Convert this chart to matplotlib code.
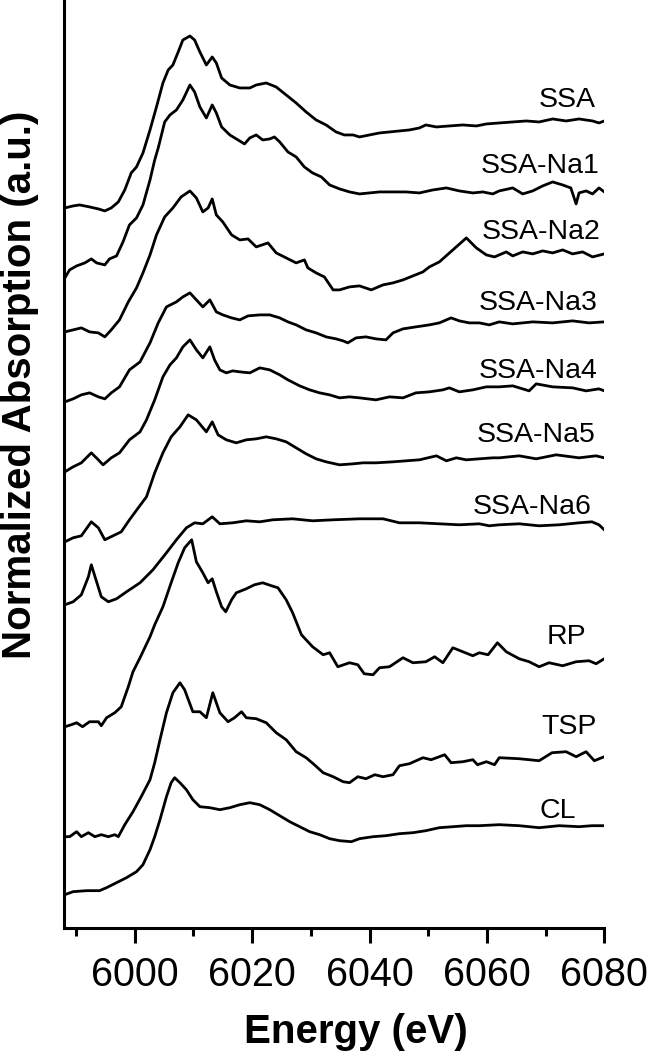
"""
Stacked Fe K-edge XANES spectra of the SSA / reference samples
"""

import numpy as np
import matplotlib
matplotlib.use("Agg")
import matplotlib.pyplot as plt
from matplotlib.ticker import MultipleLocator

plt.rcParams["font.family"] = ["Liberation Sans", "DejaVu Sans"]

# sample names, top to bottom
names = ["SSA", "SSA-Na1", "SSA-Na2", "SSA-Na3", "SSA-Na4",
         "SSA-Na5", "SSA-Na6", "RP", "TSP", "CL"]

# spectra as drawn (already offset), energy in eV
e_ssa = [5988.1, 5989.5, 5990.6, 5992.3, 5993.8, 5994.9, 5996.0, 5997.2, 5998.3, 5999.4,
         6000.3, 6001.4, 6002.6, 6003.7, 6004.8, 6005.7, 6006.5, 6007.4, 6008.2, 6009.4,
         6010.2, 6011.1, 6012.2, 6013.2, 6013.9, 6014.8, 6016.2, 6017.9, 6019.6, 6020.7,
         6022.4, 6024.1, 6025.8, 6027.5, 6029.2, 6030.9, 6032.6, 6034.3, 6035.7, 6037.2,
         6038.3, 6040.0, 6041.7, 6043.4, 6045.1, 6046.8, 6048.5, 6049.6, 6051.4, 6053.6,
         6055.9, 6058.2, 6059.9, 6062.1, 6064.4, 6066.7, 6068.9, 6071.2, 6073.5, 6075.7,
         6078.0, 6079.1, 6080.0]
a_ssa = [7.20, 7.22, 7.23, 7.21, 7.19, 7.17, 7.20, 7.26, 7.38, 7.55,
         7.61, 7.75, 7.98, 8.21, 8.45, 8.58, 8.63, 8.76, 8.88, 8.92,
         8.88, 8.76, 8.63, 8.71, 8.65, 8.50, 8.43, 8.40, 8.40, 8.43,
         8.45, 8.41, 8.33, 8.25, 8.16, 8.08, 8.03, 7.96, 7.93, 7.93,
         7.91, 7.93, 7.95, 7.96, 7.97, 7.98, 8.00, 8.03, 8.01, 8.02,
         8.03, 8.02, 8.04, 8.05, 8.06, 8.07, 8.06, 8.09, 8.07, 8.09,
         8.07, 8.05, 8.07]

e_na1 = [5988.1, 5988.9, 5990.1, 5991.5, 5992.6, 5993.5, 5994.9, 5995.7, 5996.9, 5998.0,
         5999.1, 6000.3, 6001.4, 6002.6, 6003.4, 6004.0, 6005.1, 6006.0, 6007.1, 6008.2,
         6009.4, 6010.2, 6011.1, 6012.2, 6013.2, 6013.9, 6014.8, 6016.2, 6017.6, 6018.7,
         6019.6, 6020.7, 6021.8, 6023.0, 6023.8, 6024.7, 6026.1, 6027.5, 6028.9, 6030.3,
         6031.8, 6033.2, 6034.9, 6036.6, 6038.3, 6040.0, 6041.7, 6044.0, 6046.2, 6048.5,
         6050.8, 6053.1, 6055.3, 6057.6, 6059.3, 6061.0, 6062.1, 6064.4, 6066.1, 6067.8,
         6069.5, 6071.2, 6072.9, 6074.3, 6075.2, 6075.7, 6076.9, 6078.0, 6079.1, 6080.0]
a_na1 = [6.50, 6.58, 6.62, 6.65, 6.69, 6.65, 6.63, 6.69, 6.72, 6.86,
         7.03, 7.10, 7.23, 7.48, 7.68, 7.80, 8.06, 8.13, 8.18, 8.28,
         8.43, 8.36, 8.21, 8.10, 8.23, 8.15, 8.01, 7.93, 7.88, 7.84,
         7.90, 7.93, 7.88, 7.89, 7.91, 7.86, 7.76, 7.71, 7.61, 7.55,
         7.51, 7.43, 7.39, 7.36, 7.34, 7.35, 7.36, 7.36, 7.36, 7.35,
         7.38, 7.40, 7.37, 7.35, 7.36, 7.34, 7.37, 7.40, 7.34, 7.37,
         7.42, 7.46, 7.43, 7.40, 7.24, 7.35, 7.37, 7.34, 7.40, 7.36]

e_na2 = [5988.1, 5989.5, 5990.9, 5992.3, 5993.8, 5994.9, 5996.0, 5997.4, 5998.9, 6000.3,
         6001.4, 6002.6, 6003.7, 6005.1, 6006.5, 6007.9, 6009.4, 6010.5, 6011.6, 6012.5,
         6013.2, 6013.9, 6015.0, 6016.5, 6017.9, 6019.3, 6020.7, 6022.7, 6024.1, 6025.8,
         6027.5, 6028.9, 6029.5, 6030.9, 6032.3, 6033.8, 6034.9, 6036.6, 6038.3, 6040.3,
         6042.3, 6044.0, 6045.7, 6047.4, 6049.1, 6050.2, 6051.9, 6054.2, 6056.5, 6058.2,
         6059.9, 6061.3, 6062.1, 6063.3, 6064.4, 6066.1, 6067.8, 6069.5, 6071.2, 6072.9,
         6074.6, 6076.3, 6078.0, 6080.0]
a_na2 = [5.96, 5.98, 6.00, 5.96, 5.95, 5.91, 5.98, 6.08, 6.26, 6.40,
         6.55, 6.73, 6.93, 7.11, 7.20, 7.31, 7.37, 7.30, 7.16, 7.20,
         7.29, 7.13, 7.06, 6.93, 6.88, 6.89, 6.81, 6.85, 6.75, 6.70,
         6.65, 6.68, 6.60, 6.55, 6.51, 6.38, 6.38, 6.41, 6.42, 6.38,
         6.43, 6.45, 6.48, 6.52, 6.56, 6.61, 6.66, 6.78, 6.90, 6.80,
         6.73, 6.71, 6.73, 6.76, 6.72, 6.76, 6.74, 6.77, 6.75, 6.78,
         6.74, 6.76, 6.71, 6.74]

e_na3 = [5988.1, 5989.5, 5990.9, 5992.3, 5993.8, 5994.9, 5996.0, 5997.4, 5999.1, 6000.9,
         6002.6, 6004.0, 6005.4, 6007.1, 6008.2, 6009.4, 6010.5, 6011.6, 6012.8, 6013.9,
         6015.0, 6016.5, 6017.9, 6019.3, 6021.3, 6023.0, 6024.7, 6026.1, 6027.5, 6029.2,
         6030.9, 6032.6, 6034.3, 6035.5, 6036.3, 6037.7, 6039.4, 6041.1, 6042.8, 6044.0,
         6045.7, 6047.9, 6050.2, 6051.9, 6053.9, 6055.3, 6057.0, 6058.7, 6060.4, 6062.1,
         6064.4, 6067.8, 6071.2, 6074.6, 6077.4, 6080.0]
a_na3 = [5.26, 5.29, 5.33, 5.35, 5.31, 5.29, 5.35, 5.41, 5.58, 5.66,
         5.85, 6.05, 6.21, 6.26, 6.31, 6.35, 6.28, 6.21, 6.28, 6.16,
         6.13, 6.10, 6.08, 6.12, 6.13, 6.13, 6.10, 6.06, 6.03, 5.98,
         5.95, 5.91, 5.89, 5.87, 5.85, 5.90, 5.91, 5.89, 5.88, 5.95,
         5.99, 6.01, 6.03, 6.05, 6.10, 6.07, 6.05, 6.05, 6.03, 6.06,
         6.04, 6.06, 6.05, 6.07, 6.05, 6.06]

e_na4 = [5988.1, 5989.5, 5990.9, 5992.6, 5993.8, 5994.6, 5996.0, 5997.4, 5999.1, 6000.9,
         6002.0, 6003.4, 6004.8, 6006.0, 6007.1, 6008.2, 6009.4, 6010.5, 6011.6, 6012.8,
         6013.6, 6014.5, 6015.6, 6016.7, 6017.9, 6019.6, 6021.3, 6023.0, 6024.7, 6026.1,
         6028.1, 6029.8, 6031.5, 6033.2, 6034.9, 6036.6, 6038.3, 6041.1, 6043.4, 6045.7,
         6047.9, 6050.2, 6052.5, 6053.6, 6055.3, 6057.6, 6059.9, 6062.1, 6064.4, 6067.2,
         6068.4, 6071.2, 6074.6, 6076.9, 6079.1, 6080.0]
a_na4 = [4.56, 4.61, 4.65, 4.75, 4.68, 4.63, 4.70, 4.75, 4.88, 4.96,
         5.08, 5.28, 5.51, 5.63, 5.70, 5.81, 5.88, 5.78, 5.70, 5.81,
         5.68, 5.58, 5.55, 5.57, 5.56, 5.55, 5.60, 5.58, 5.53, 5.48,
         5.42, 5.38, 5.35, 5.33, 5.30, 5.31, 5.30, 5.28, 5.31, 5.30,
         5.35, 5.36, 5.38, 5.40, 5.36, 5.38, 5.41, 5.41, 5.42, 5.37,
         5.44, 5.41, 5.40, 5.37, 5.39, 5.37]

e_na5 = [5988.1, 5989.5, 5990.9, 5992.6, 5993.8, 5994.9, 5996.3, 5997.7, 5999.1, 6000.6,
         6002.0, 6003.4, 6004.8, 6006.2, 6007.7, 6009.1, 6010.5, 6012.2, 6013.2, 6014.2,
         6015.6, 6017.3, 6019.0, 6020.7, 6022.4, 6024.1, 6025.8, 6027.5, 6029.2, 6030.9,
         6032.6, 6034.9, 6037.2, 6038.9, 6041.1, 6044.0, 6046.2, 6048.5, 6051.4, 6053.1,
         6054.8, 6056.5, 6058.7, 6061.0, 6062.1, 6065.5, 6068.4, 6071.8, 6075.7, 6078.6,
         6080.0]
a_na5 = [3.86, 3.90, 3.92, 4.06, 4.00, 3.88, 3.92, 3.96, 4.08, 4.20,
         4.31, 4.55, 4.75, 4.91, 5.01, 5.13, 5.08, 4.96, 5.06, 4.93,
         4.88, 4.85, 4.88, 4.89, 4.91, 4.89, 4.86, 4.80, 4.74, 4.69,
         4.66, 4.63, 4.64, 4.65, 4.65, 4.66, 4.67, 4.68, 4.72, 4.67,
         4.70, 4.68, 4.69, 4.70, 4.70, 4.72, 4.69, 4.73, 4.70, 4.72,
         4.70]

e_na6 = [5988.1, 5989.5, 5990.9, 5992.1, 5992.6, 5993.5, 5994.3, 5995.5, 5996.9, 5998.6,
         6000.9, 6003.1, 6005.4, 6007.1, 6008.8, 6010.2, 6011.6, 6013.2, 6014.5, 6016.7,
         6019.0, 6021.3, 6023.5, 6026.9, 6030.3, 6033.8, 6038.3, 6042.3, 6045.1, 6048.5,
         6051.9, 6055.3, 6058.7, 6060.4, 6062.1, 6065.5, 6068.9, 6072.3, 6075.7, 6077.9,
         6079.1, 6080.0]
a_na6 = [3.23, 3.26, 3.33, 3.51, 3.63, 3.46, 3.31, 3.26, 3.29, 3.36,
         3.45, 3.58, 3.75, 3.88, 4.00, 4.05, 4.04, 4.11, 4.04, 4.05,
         4.07, 4.06, 4.08, 4.09, 4.07, 4.08, 4.09, 4.09, 4.05, 4.05,
         4.04, 4.03, 4.04, 4.02, 4.03, 4.04, 4.02, 4.03, 4.05, 4.06,
         4.03, 3.98]

e_rp = [5988.1, 5989.2, 5990.1, 5991.1, 5992.3, 5993.8, 5994.3, 5995.2, 5996.6, 5997.7,
        5998.9, 5999.7, 6000.9, 6002.6, 6003.4, 6004.8, 6006.2, 6007.4, 6008.5, 6009.7,
        6010.5, 6011.6, 6012.5, 6013.2, 6013.9, 6014.8, 6015.5, 6016.5, 6017.3, 6019.0,
        6020.4, 6021.8, 6023.3, 6024.4, 6025.8, 6026.9, 6028.4, 6030.3, 6032.1, 6033.2,
        6034.6, 6036.6, 6038.0, 6039.1, 6040.6, 6041.7, 6043.4, 6045.7, 6047.4, 6049.6,
        6051.1, 6052.5, 6054.2, 6055.9, 6057.6, 6058.7, 6060.2, 6061.8, 6063.3, 6065.5,
        6067.2, 6068.9, 6070.6, 6072.9, 6075.2, 6077.4, 6078.6, 6080.0]
a_rp = [2.01, 2.03, 2.05, 2.01, 2.06, 2.06, 2.02, 2.10, 2.15, 2.21,
        2.41, 2.56, 2.70, 2.91, 3.03, 3.21, 3.45, 3.65, 3.80, 3.88,
        3.66, 3.55, 3.45, 3.49, 3.36, 3.21, 3.16, 3.28, 3.35, 3.39,
        3.43, 3.45, 3.42, 3.40, 3.28, 3.15, 2.93, 2.81, 2.73, 2.75,
        2.61, 2.65, 2.63, 2.54, 2.53, 2.60, 2.61, 2.70, 2.65, 2.66,
        2.71, 2.65, 2.80, 2.76, 2.72, 2.75, 2.73, 2.85, 2.76, 2.69,
        2.66, 2.61, 2.65, 2.62, 2.66, 2.67, 2.64, 2.69]

e_tsp = [5988.1, 5988.9, 5990.1, 5990.9, 5992.1, 5993.2, 5994.3, 5995.5, 5996.6, 5997.2,
         5998.3, 5999.7, 6001.1, 6002.6, 6003.4, 6004.3, 6005.4, 6006.5, 6007.7, 6008.5,
         6009.9, 6011.1, 6012.2, 6013.3, 6014.5, 6015.9, 6017.0, 6018.2, 6019.0, 6020.7,
         6022.4, 6024.1, 6025.8, 6027.5, 6029.2, 6030.6, 6032.1, 6033.8, 6035.5, 6036.6,
         6038.0, 6039.4, 6040.9, 6042.3, 6044.0, 6045.1, 6046.8, 6049.1, 6050.5, 6051.9,
         6052.8, 6053.9, 6055.9, 6057.6, 6058.4, 6059.9, 6061.3, 6062.1, 6065.5, 6068.9,
         6071.1, 6073.5, 6075.2, 6076.9, 6078.3, 6080.0]
a_tsp = [0.91, 0.91, 0.96, 0.91, 0.95, 0.91, 0.93, 0.91, 0.93, 0.91,
         1.03, 1.16, 1.31, 1.48, 1.65, 1.88, 2.15, 2.35, 2.45, 2.38,
         2.16, 2.16, 2.10, 2.35, 2.15, 2.06, 2.10, 2.16, 2.10, 2.09,
         2.05, 1.95, 1.88, 1.76, 1.70, 1.63, 1.55, 1.51, 1.46, 1.45,
         1.51, 1.49, 1.53, 1.51, 1.53, 1.62, 1.64, 1.70, 1.68, 1.71,
         1.73, 1.65, 1.66, 1.68, 1.63, 1.66, 1.63, 1.70, 1.69, 1.67,
         1.75, 1.76, 1.71, 1.76, 1.67, 1.71]

e_cl = [5988.1, 5989.5, 5991.8, 5994.0, 5995.2, 5996.9, 5998.6, 6000.3, 6001.4, 6002.6,
        6003.4, 6004.3, 6005.4, 6006.2, 6006.8, 6007.7, 6008.8, 6009.9, 6011.1, 6012.8,
        6014.5, 6016.2, 6017.9, 6019.6, 6021.3, 6023.0, 6024.7, 6026.4, 6028.1, 6029.8,
        6031.5, 6033.2, 6034.9, 6036.9, 6038.3, 6040.6, 6042.8, 6045.1, 6047.4, 6049.6,
        6051.9, 6054.2, 6056.5, 6058.7, 6062.1, 6065.5, 6068.9, 6072.3, 6075.7, 6077.9,
        6080.0]
a_cl = [0.33, 0.36, 0.37, 0.37, 0.40, 0.45, 0.50, 0.56, 0.63, 0.78,
        0.91, 1.08, 1.31, 1.45, 1.50, 1.45, 1.38, 1.28, 1.21, 1.20,
        1.18, 1.20, 1.23, 1.25, 1.23, 1.18, 1.12, 1.06, 1.01, 0.96,
        0.93, 0.89, 0.87, 0.86, 0.89, 0.91, 0.92, 0.94, 0.95, 0.97,
        1.00, 1.01, 1.02, 1.02, 1.03, 1.02, 1.00, 1.02, 1.01, 1.02,
        1.02]

energies = [e_ssa, e_na1, e_na2, e_na3, e_na4, e_na5, e_na6, e_rp, e_tsp, e_cl]
spectra = [a_ssa, a_na1, a_na2, a_na3, a_na4, a_na5, a_na6, a_rp, a_tsp, a_cl]

# where each name sits (right-aligned, baseline)
label_x = [6078.5, 6079.1, 6079.3, 6078.8, 6078.8, 6078.5, 6077.9, 6076.9, 6078.8, 6075.2]
label_y = [8.21, 7.55, 6.89, 6.18, 5.50, 4.86, 4.14, 2.84, 1.94, 1.10]


fig = plt.figure(figsize=(6.49, 10.52), dpi=100)
ax = fig.add_axes([0.0991, 0.1182, 0.832, 0.8818])

for e, a in zip(energies, spectra):
    ax.plot(e, a, color="black", lw=2.0, solid_joinstyle="round")

for name, lx, ly in zip(names, label_x, label_y):
    ax.text(lx, ly, name, ha="right", va="baseline", fontsize=20.5)

ax.set_xlim(5988, 6080)
ax.set_ylim(0, 9.28)

ax.xaxis.set_major_locator(MultipleLocator(20))
ax.xaxis.set_minor_locator(MultipleLocator(10))
ax.tick_params(axis="x", which="major", direction="out", length=10.8, width=2.2,
               labelsize=28.5, pad=9.5)
ax.tick_params(axis="x", which="minor", direction="out", length=5.5, width=2.2)
ax.set_yticks([])

for side in ["top", "right"]:
    ax.spines[side].set_visible(False)
for side in ["left", "bottom"]:
    ax.spines[side].set_linewidth(2.2)

ax.set_xlabel("Energy (eV)", fontsize=29, fontweight="bold", va="baseline")
ax.xaxis.set_label_coords(0.540, -0.1243)
ax.set_ylabel("Normalized Absorption (a.u.)", fontsize=29, fontweight="bold",
              va="baseline")
ax.yaxis.set_label_coords(-0.0617, 0.585)

plt.savefig("out.png", dpi=100)
